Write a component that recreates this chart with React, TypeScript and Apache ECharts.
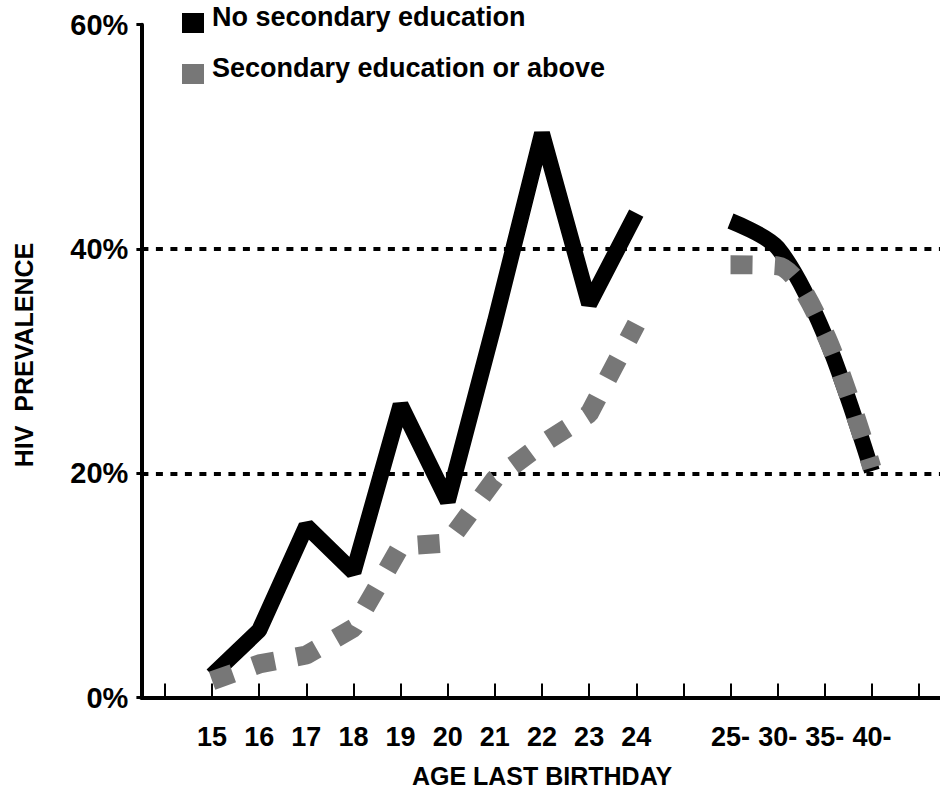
import React, { useEffect, useRef } from "react";
import * as echarts from "echarts";

// Category slots along the x axis (blank slots give the spacing seen in the chart)
const youngAges = ["15", "16", "17", "18", "19", "20", "21", "22", "23", "24"];
const olderAges = ["25-", "30-", "35-", "40-"];
const categories = ["", ...youngAges, " ", ...olderAges, "  "];

// HIV prevalence (%)
const noSecondaryYoung = [2, 6, 15.3, 11.2, 26.1, 17.5, 33.5, 50.3, 35.1, 43.2];
const noSecondaryOlder = [42.5, 40.1, 32.3, 20.2];
const secondaryYoung = [1.5, 3, 3.8, 6.2, 13.5, 13.8, 19.5, 22.6, 25.3, 33.3];
const secondaryOlder = [38.6, 38.5, 32.5, 20.5];

const yTicks = [0, 20, 40, 60];

const NAME_A = "No secondary education";
const NAME_B = "Secondary education or above";
const FONT = '"Liberation Sans", Arial, Helvetica, sans-serif';
// square swatch sitting in the lower part of a taller legend box
const SWATCH = "path://M0,-12L0,-12M0,0H22V20H0Z";

export default function App() {
  const ref = useRef<HTMLDivElement>(null);

  useEffect(() => {
    if (!ref.current) return;
    const chart = echarts.init(ref.current, undefined, { renderer: "svg" });

    const pairs = (ages: string[], vals: number[]) => ages.map((a, i) => [a, vals[i]]);

    const blackStyle = { color: "#000000", width: 16, join: "bevel", cap: "butt" };
    const grayStyle = { color: "#777777", width: 19, type: [22, 22], join: "bevel", cap: "butt" };

    chart.setOption({
      animation: false,
      backgroundColor: "#ffffff",
      grid: {
        left: 141.4,
        top: 24.7,
        width: 801.2,
        height: 672.9,
        containLabel: false,
        outerBoundsMode: "none",
      },
      legend: {
        orient: "vertical",
        left: 182,
        top: 1,
        padding: 0,
        itemGap: 19,
        itemWidth: 22,
        itemHeight: 32,
        icon: SWATCH,
        selectedMode: false,
        data: [
          { name: NAME_A, itemStyle: { color: "#000000", borderWidth: 0 } },
          { name: NAME_B, itemStyle: { color: "#777777", borderWidth: 0 } },
        ],
        itemStyle: { borderWidth: 0 },
        textStyle: {
          fontSize: 27,
          fontWeight: "bold",
          fontFamily: FONT,
          color: "#000",
          padding: [0, 0, 0, 3],
        },
      },
      xAxis: {
        type: "category",
        data: categories,
        boundaryGap: true,
        axisLine: { show: true, lineStyle: { color: "#000", width: 4 } },
        axisTick: {
          show: true,
          inside: true,
          length: 14,
          alignWithLabel: true,
          interval: 0,
          lineStyle: { color: "#000", width: 2 },
        },
        axisLabel: {
          interval: 0,
          fontSize: 27,
          fontWeight: "bold",
          fontFamily: FONT,
          color: "#000",
          margin: 26,
        },
        splitLine: { show: false },
        name: "AGE LAST BIRTHDAY",
        nameLocation: "middle",
        nameGap: 66,
        nameTextStyle: { fontSize: 25, fontWeight: "bold", fontFamily: FONT, color: "#000" },
      },
      yAxis: {
        type: "value",
        min: yTicks[0],
        max: yTicks[yTicks.length - 1],
        interval: yTicks[1] - yTicks[0],
        axisLine: { show: true, lineStyle: { color: "#000", width: 4 } },
        axisTick: { show: true, length: 5, lineStyle: { color: "#000", width: 3 } },
        axisLabel: {
          formatter: (v: number) => v + "%",
          fontSize: 29,
          fontWeight: "bold",
          fontFamily: FONT,
          color: "#000",
          margin: 13,
        },
        splitLine: {
          show: true,
          showMinLine: false,
          showMaxLine: false,
          lineStyle: { color: "#000", width: 4, type: [7, 7.5] },
        },
      },
      graphic: [
        {
          type: "text",
          x: 23.5,
          y: 355,
          rotation: Math.PI / 2,
          style: {
            text: "HIV  PREVALENCE",
            font: `bold 25px ${FONT}`,
            fill: "#000",
            align: "center",
            verticalAlign: "middle",
            textAlign: "center",
            textVerticalAlign: "middle",
          },
        },
      ],
      series: [
        {
          name: NAME_A,
          type: "line",
          data: pairs(youngAges, noSecondaryYoung),
          showSymbol: false,
          symbol: "none",
          lineStyle: blackStyle,
          itemStyle: { color: "#000000" },
          z: 3,
        },
        {
          name: NAME_A,
          type: "line",
          data: pairs(olderAges, noSecondaryOlder),
          smooth: 0.3,
          showSymbol: false,
          symbol: "none",
          lineStyle: blackStyle,
          itemStyle: { color: "#000000" },
          z: 3,
        },
        {
          name: NAME_B,
          type: "line",
          data: pairs(youngAges, secondaryYoung),
          showSymbol: false,
          symbol: "none",
          lineStyle: grayStyle,
          itemStyle: { color: "#777777" },
          z: 4,
        },
        {
          name: NAME_B,
          type: "line",
          data: pairs(olderAges, secondaryOlder),
          smooth: 0.3,
          showSymbol: false,
          symbol: "none",
          lineStyle: grayStyle,
          itemStyle: { color: "#777777" },
          z: 4,
        },
      ],
    });

    return () => chart.dispose();
  }, []);

  return (
    <div
      ref={ref}
      style={{ position: "absolute", left: 0, top: 0, width: 940, height: 792, background: "#fff" }}
    />
  );
}
